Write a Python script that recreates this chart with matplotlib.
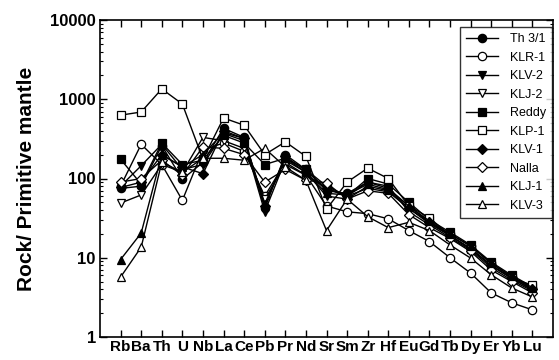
import numpy as np
import matplotlib
matplotlib.use("Agg")
import matplotlib.pyplot as plt
from matplotlib.ticker import LogLocator, NullFormatter

elements = ["Rb", "Ba", "Th", "U", "Nb", "La", "Ce", "Pb", "Pr", "Nd", "Sr",
            "Sm", "Zr", "Hf", "Eu", "Gd", "Tb", "Dy", "Er", "Yb", "Lu"]

# normalised values (rock / primitive mantle)
th31 = [75, 80, 260, 98, 160, 430, 330, 42, 200, 130, 70, 65, 90, 75, 45, 28, 20, 14, 8.5, 5.7, 4.1]
klr1 = [80, 270, 150, 53, 230, 280, 220, 60, 160, 110, 45, 38, 36, 31, 22, 16, 10, 6.4, 3.6, 2.7, 2.2]
klv2 = [80, 145, 270, 130, 150, 370, 300, 38, 170, 120, 60, 55, 80, 70, 42, 27, 19, 13, 8, 5.5, 3.9]
klj2 = [49, 62, 150, 120, 330, 300, 240, 55, 150, 110, 75, 60, 90, 80, 38, 26, 18, 12.5, 7.5, 5.2, 3.8]
reddy = [175, 85, 280, 150, 170, 350, 280, 150, 180, 130, 80, 60, 100, 85, 50, 30, 21, 14.5, 8.8, 6, 4.3]
klp1 = [630, 690, 1350, 870, 175, 580, 470, 200, 290, 190, 41, 90, 135, 100, 45, 32, 19, 13, 8, 5.5, 4.5]
klv1 = [77, 90, 200, 140, 115, 400, 320, 45, 190, 125, 75, 60, 75, 68, 42, 28, 19, 13, 8, 5.5, 4.0]
nalla = [90, 100, 170, 110, 250, 240, 200, 90, 130, 95, 88, 55, 70, 65, 35, 24, 17.5, 12, 7, 5, 3.6]
klj1 = [9.5, 20.5, 200, 140, 200, 380, 320, 48, 180, 120, 65, 62, 85, 72, 45, 29, 20, 14, 8.5, 5.8, 4.2]
klv3 = [5.7, 13.6, 160, 120, 180, 180, 170, 240, 140, 95, 22, 55, 33, 24, 28, 22, 14.5, 9.9, 6.1, 4.15, 3.2]

samples = [("Th 3/1", th31, "o", "black"),
           ("KLR-1", klr1, "o", "white"),
           ("KLV-2", klv2, "v", "black"),
           ("KLJ-2", klj2, "v", "white"),
           ("Reddy", reddy, "s", "black"),
           ("KLP-1", klp1, "s", "white"),
           ("KLV-1", klv1, "D", "black"),
           ("Nalla", nalla, "D", "white"),
           ("KLJ-1", klj1, "^", "black"),
           ("KLV-3", klv3, "^", "white")]

plt.rcParams["font.family"] = ["Liberation Sans", "DejaVu Sans"]

fig = plt.figure(figsize=(5.59, 3.6), dpi=100)
ax = fig.add_axes([100 / 559, 23 / 360, 453 / 559, 317 / 360])

x = np.arange(len(elements))
for name, vals, mk, fc in samples:
  ms = 5 if mk == "D" else 6
  ax.plot(x, vals, color="black", linewidth=1.0, marker=mk, markersize=ms,
          markerfacecolor=fc, markeredgecolor="black", markeredgewidth=0.9,
          label=name)

ax.set_yscale("log")
ax.set_ylim(1, 10000)
ax.set_xlim(-1, len(elements))
ax.set_xticks(x)
ax.set_xticklabels(elements, fontsize=11, fontweight="bold")
ax.set_yticks([1, 10, 100, 1000, 10000])
ax.set_yticklabels(["1", "10", "100", "1000", "10000"], fontsize=12, fontweight="bold")
ax.yaxis.set_minor_locator(LogLocator(base=10, subs=np.arange(2, 10), numticks=20))
ax.yaxis.set_minor_formatter(NullFormatter())
ax.tick_params(axis="both", which="major", direction="in", top=True, right=True,
               length=5, width=1, pad=3)
ax.tick_params(axis="y", which="minor", direction="in", right=True, length=2.5, width=0.8)
ax.tick_params(axis="x", pad=2)
for sp in ax.spines.values():
  sp.set_linewidth(1.2)

ax.set_ylabel("Rock/ Primitive mantle", fontsize=15, fontweight="bold", labelpad=10)

leg = ax.legend(loc="upper right", bbox_to_anchor=(0.998, 0.978), borderaxespad=0,
                fontsize=9, frameon=True, fancybox=False, edgecolor="black",
                handlelength=2.6, handletextpad=0.9, labelspacing=0.52,
                borderpad=0.5)
leg.get_frame().set_linewidth(1.0)

plt.savefig("out.png", dpi=100)
